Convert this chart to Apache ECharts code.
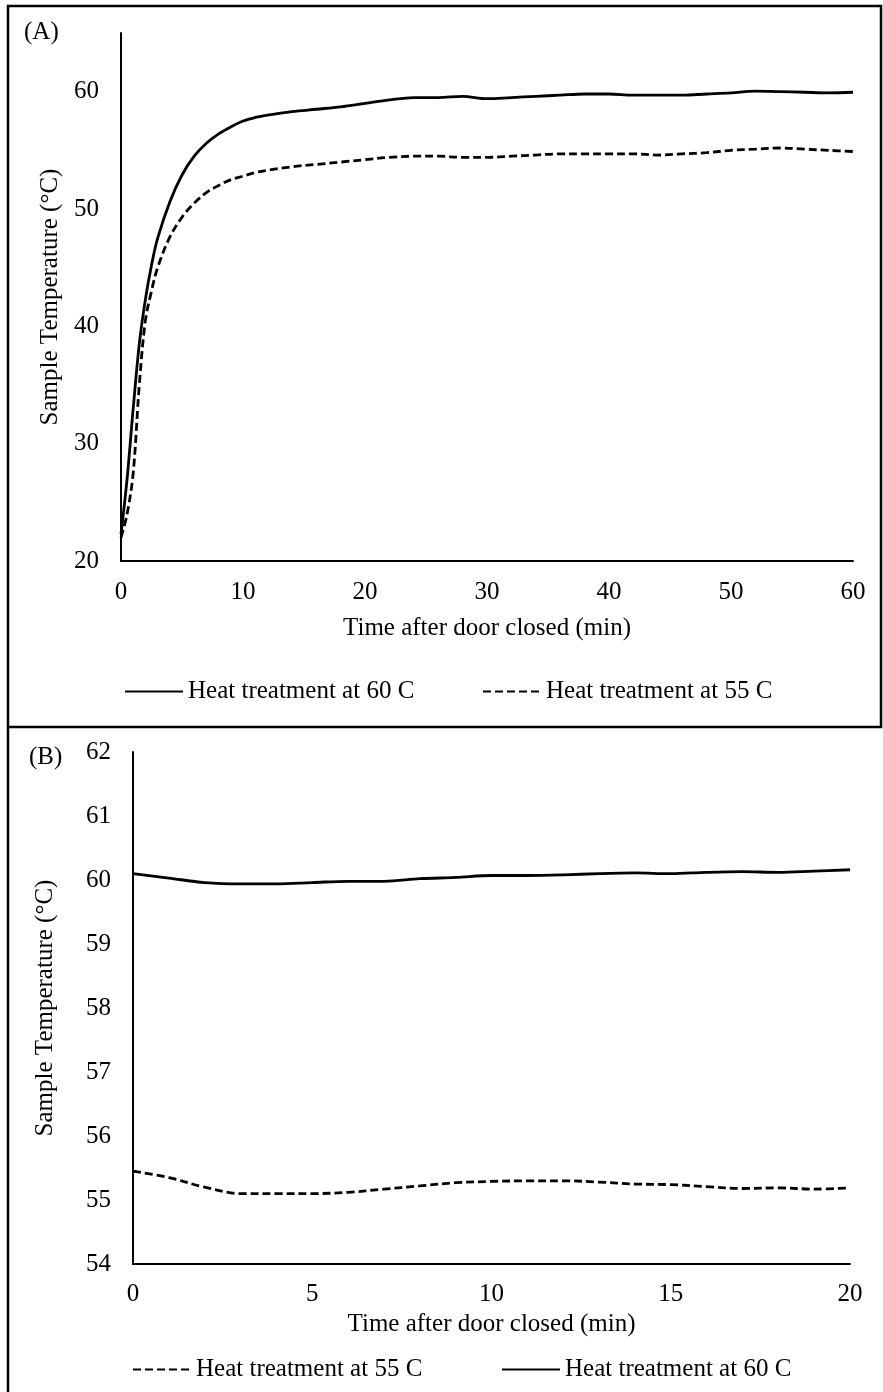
<!DOCTYPE html>
<html>
<head>
<meta charset="utf-8">
<script src="https://cdn.jsdelivr.net/npm/echarts@6/dist/echarts.min.js"></script>
<style>
html,body{margin:0;padding:0;background:#fff;}
#chart{width:883px;height:1392px;}
</style>
</head>
<body>
<div id="chart"></div>
<script>
// ---- Panel A data ----
const timeA = [0,0.5,1,1.5,2,2.5,3,4,5,6,7,8,9,10,11,12,14,16,18,20,22,24,26,28,30,32,34,36,38,40,42,44,46,48,50,52,54,56,58,60];
const a60 = [22.3,27,33,38.5,42.3,45.2,47.5,50.6,52.9,54.5,55.6,56.4,57.0,57.5,57.8,58.0,58.3,58.5,58.7,59.0,59.3,59.5,59.5,59.6,59.4,59.5,59.6,59.7,59.8,59.8,59.7,59.7,59.7,59.8,59.9,60.05,60.0,59.95,59.9,59.95];
const a55 = [22.0,24,27.5,35,40.5,43,45,47.6,49.3,50.5,51.4,52.0,52.5,52.8,53.1,53.3,53.6,53.8,54.0,54.2,54.4,54.5,54.5,54.4,54.4,54.5,54.6,54.7,54.7,54.7,54.7,54.6,54.7,54.8,55.0,55.1,55.2,55.1,55.0,54.9];
const xTicksA = {min:0, max:60, interval:10};
const yTicksA = {min:20, max:65, interval:10};

// ---- Panel B data ----
const timeB = [0,1,2,3,4,5,6,7,8,9,10,11,12,13,14,15,16,17,18,19,20];
const b55 = [55.45,55.35,55.2,55.1,55.1,55.1,55.12,55.17,55.22,55.27,55.29,55.3,55.3,55.28,55.25,55.24,55.21,55.18,55.19,55.17,55.19];
const b60 = [60.1,60.03,59.96,59.94,59.94,59.96,59.98,59.98,60.02,60.04,60.07,60.07,60.08,60.1,60.11,60.1,60.12,60.13,60.12,60.14,60.16];
const xTicksB = {min:0, max:20, interval:5};
const yTicksB = {min:54, max:62, interval:1};

const names = {s60:'Heat treatment at 60 C', s55:'Heat treatment at 55 C'};
const xTitle = 'Time after door closed (min)';
const yTitle = 'Sample Temperature (°C)';

const FONT = '"Liberation Serif", "Times New Roman", serif';
const FS = 25;
const txt = {color:'#000', fontFamily:FONT, fontSize:FS};

function pairs(xs, ys){ return xs.map((x,i)=>[x, ys[i]]); }

const solid = {color:'#000', width:2.8, type:'solid'};
const dashed = {color:'#000', width:2.8, type:[8,4]};

function xAxis(idx, t, gap, margin){
  return {type:'value', gridIndex:idx, min:t.min, max:t.max, interval:t.interval,
    name:xTitle, nameLocation:'middle', nameGap:gap, nameTextStyle:txt,
    axisLine:{show:true, onZero:false, lineStyle:{color:'#000', width:2}},
    axisTick:{show:false}, splitLine:{show:false},
    axisLabel:Object.assign({margin:margin}, txt)};
}
function yAxis(idx, t, gap, showMax){
  return {type:'value', gridIndex:idx, min:t.min, max:t.max, interval:t.interval,
    name:yTitle, nameLocation:'middle', nameGap:gap, nameTextStyle:txt,
    axisLine:{show:true, onZero:false, lineStyle:{color:'#000', width:2}},
    axisTick:{show:false}, splitLine:{show:false},
    axisLabel:Object.assign({margin:22, showMaxLabel:showMax}, txt)};
}

function series(name, idx, xs, ys, style){
  return {name:name, type:'line', xAxisIndex:idx, yAxisIndex:idx, data:pairs(xs,ys),
    showSymbol:false, symbol:'none', smooth:0.35, color:'#000',
    itemStyle:{color:'#000'}, lineStyle:style};
}

function legend(name, label, left, top){
  return {show:true, data:[{name:name}], left:left, top:top, itemWidth:58, itemHeight:14, padding:0,
    itemStyle:{color:'rgba(0,0,0,0)', borderWidth:0, opacity:0},
    formatter:()=>label, textStyle:txt};
}

const chart = echarts.init(document.getElementById('chart'), null, {renderer:'canvas'});
chart.setOption({
  backgroundColor:'#fff',
  animation:false,
  title:[
    {text:'(A)', left:24, top:20, textStyle:Object.assign({fontWeight:'normal'}, txt), padding:0},
    {text:'(B)', left:29, top:745, textStyle:Object.assign({fontWeight:'normal'}, txt), padding:0}
  ],
  grid:[
    {left:121, top:33, width:732, height:528, containLabel:false},
    {left:133, top:752, width:717, height:512, containLabel:false}
  ],
  xAxis:[xAxis(0, xTicksA, 55, 19), xAxis(1, xTicksB, 48, 18)],
  yAxis:[yAxis(0, yTicksA, 46, false), yAxis(1, yTicksB, 75, true)],
  legend:[
    legend('A60', names.s60, 124, 679),
    legend('A55', names.s55, 482, 679),
    legend('B55', names.s55, 132, 1357),
    legend('B60', names.s60, 501, 1357)
  ],
  series:[
    series('A60', 0, timeA, a60, solid),
    series('A55', 0, timeA, a55, dashed),
    series('B55', 1, timeB, b55, dashed),
    series('B60', 1, timeB, b60, solid)
  ],
  graphic:[
    {type:'rect', shape:{x:8, y:6, width:873, height:721}, style:{fill:null, stroke:'#000', lineWidth:2.5}, silent:true},
    {type:'line', shape:{x1:8, y1:727, x2:8, y2:1392}, style:{stroke:'#000', lineWidth:2.5}, silent:true}
  ]
});
</script>
</body>
</html>
